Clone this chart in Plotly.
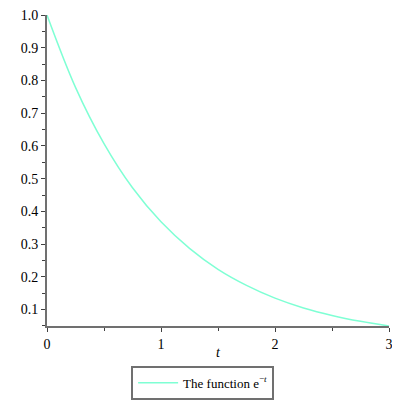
import plotly.graph_objects as go

t_values = [0.0, 0.25, 0.5, 0.75, 1.0, 1.25, 1.5, 1.75, 2.0, 2.25, 2.5, 2.75, 3.0]
y_values = [1.0, 0.779, 0.607, 0.472, 0.368, 0.287, 0.223, 0.174, 0.135, 0.105, 0.082, 0.064, 0.0498]
series_name = "The function e<sup>−<i>t</i></sup>"
x_ticks = [0, 1, 2, 3]
y_ticks = [0.1, 0.2, 0.3, 0.4, 0.5, 0.6, 0.7, 0.8, 0.9, 1.0]

fig = go.Figure()
fig.add_trace(go.Scatter(x=t_values, y=y_values, mode="lines", name=series_name,
                         line=dict(color="#7FFFD4", width=1.5, shape="spline")))

font = dict(family="Liberation Serif", size=14, color="black")
fig.update_layout(
    width=392, height=392,
    margin=dict(l=39, r=11, t=7, b=74, autoexpand=False),
    paper_bgcolor="white", plot_bgcolor="white",
    font=font,
    showlegend=True,
    legend=dict(orientation="h", x=0.455, xanchor="center", y=-0.128, yanchor="top",
                itemwidth=40, tracegroupgap=0,
                bordercolor="#707070", borderwidth=2, font=dict(family="Liberation Serif", size=13)),
    xaxis=dict(range=[0, 3], tickvals=x_ticks, ticktext=[str(v) for v in x_ticks],
               automargin=False, ticklabeloverflow="allow",
               showgrid=False, zeroline=False, showline=True, linecolor="#707070", linewidth=2,
               ticks="outside", ticklen=4, tickcolor="#404040",
               minor=dict(dtick=0.5, ticks="outside", ticklen=3, tickcolor="#404040")),
    yaxis=dict(range=[0.0498, 1.0], tickvals=y_ticks, ticktext=[f"{v:.1f}" for v in y_ticks],
               automargin=False, ticklabeloverflow="allow",
               showgrid=False, zeroline=False, showline=True, linecolor="#707070", linewidth=2,
               ticks="outside", ticklen=4, tickcolor="#404040",
               minor=dict(dtick=0.05, ticks="outside", ticklen=3, tickcolor="#404040")),
    annotations=[dict(text="<i>t</i>", xref="paper", yref="paper", x=0.5, y=-0.085,
                      xanchor="center", yanchor="middle", showarrow=False,
                      font=dict(family="Liberation Serif", size=14))],
)
fig.write_html("out.html")
